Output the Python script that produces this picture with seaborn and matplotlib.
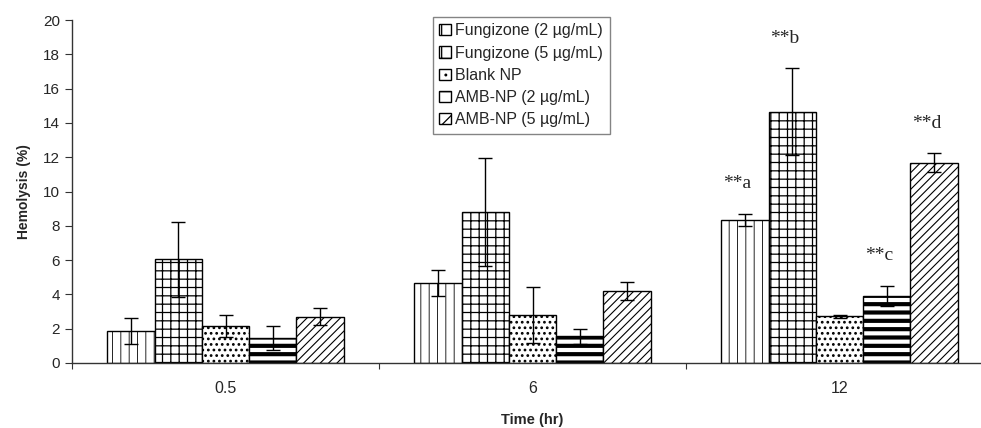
import pandas as pd
import seaborn as sns
import numpy as np
import matplotlib.pyplot as plt

times = ['0.5', '6', '12']
groups = ['Fungizone (2 \u00b5g/mL)', 'Fungizone (5 \u00b5g/mL)', 'Blank NP',
          'AMB-NP (2 \u00b5g/mL)', 'AMB-NP (5 \u00b5g/mL)']
# hemolysis (%) per group, one value per time point
fung2 = [1.87, 4.66, 8.34]
fung5 = [6.05, 8.80, 14.65]
blank = [2.16, 2.80, 2.72]
amb2 = [1.45, 1.55, 3.90]
amb5 = [2.70, 4.20, 11.68]
fung2_err = [0.77, 0.76, 0.36]
fung5_err = [2.20, 3.15, 2.53]
blank_err = [0.64, 1.63, 0.08]
amb2_err = [0.72, 0.45, 0.60]
amb5_err = [0.49, 0.52, 0.55]
stars = ['**a', '**b', '**c', '**d']

vals = [fung2, fung5, blank, amb2, amb5]
errs = [fung2_err, fung5_err, blank_err, amb2_err, amb5_err]
df = pd.DataFrame({'Time': np.tile(times, len(groups)),
                   'Group': np.repeat(groups, len(times)),
                   'Hemolysis': np.concatenate(vals)})

sns.set_style('white')
plt.rcParams['font.family'] = ['Liberation Sans', 'DejaVu Sans']
plt.rcParams['hatch.linewidth'] = 0.9

fig = plt.figure(figsize=(9.81, 4.28), dpi=100)
ax = fig.add_axes([72 / 981, (428 - 363) / 428, 921 / 981, 343 / 428])

sns.barplot(data=df, x='Time', y='Hemolysis', hue='Group', order=times,
            hue_order=groups, errorbar=None, width=0.77,
            palette=['white'] * 5, edgecolor='black', linewidth=1.0, ax=ax)

hatches = ['||', '++', '...', '--', '////']
hlw = [0.6, 0.9, 1.2, 3.0, 0.8]
for cont, h, lw, e in zip(ax.containers, hatches, hlw, errs):
    xs = []
    for bar in cont:
        bar.set_hatch(h)
        if hasattr(bar, 'set_hatch_linewidth'):
            bar.set_hatch_linewidth(lw)
        xs.append(bar.get_x() + bar.get_width() / 2)
    ys = [b.get_height() for b in cont]
    ax.errorbar(xs, ys, yerr=e, fmt='none', ecolor='black', elinewidth=1,
                capsize=5, capthick=1)

# significance labels on the 12 hr group
for idx, lab in zip((0, 1, 3, 4), stars):
    bar = ax.containers[idx][2]
    top = bar.get_height() + errs[idx][2]
    ax.text(bar.get_x() + bar.get_width() / 2 - 0.025, top + 1.75, lab, ha='center',
            va='center', fontsize=14, family='Liberation Serif')

ax.set_ylim(0, 20)
ax.set_yticks(range(0, 21, 2))
ax.set_xlim(-0.5, 2.5)
ax.set_xticks([-0.5, 0.5, 1.5, 2.5])
ax.set_xticklabels([])
ax.set_xticks([0, 1, 2], minor=True)
ax.set_xticklabels(times, minor=True)
ax.tick_params(axis='x', which='major', direction='out', length=4, color='#333333', bottom=True)
ax.tick_params(axis='x', which='minor', length=0, pad=13, labelsize=11.5)
ax.tick_params(axis='y', direction='out', length=5, color='#333333', left=True, labelsize=11)
for s in ['top', 'right']:
    ax.spines[s].set_visible(False)
for s in ['left', 'bottom']:
    ax.spines[s].set_color('#333333')
    ax.spines[s].set_linewidth(1.0)

ax.set_xlabel('Time (hr)', fontsize=10.5, fontweight='bold', labelpad=12)
ax.set_ylabel('Hemolysis (%)', fontsize=10, fontweight='bold', labelpad=9)

leg = ax.legend(loc='upper left', bbox_to_anchor=((433 - 72) / 921, (363 - 17) / 343),
                fontsize=11.5, frameon=True, fancybox=False, handlelength=0.7,
                handleheight=0.7, handletextpad=0.3, borderpad=0.4, labelspacing=0.45,
                borderaxespad=0)
for hnd, h in zip(leg.legend_handles, ['|', '+', '..', '-', '//']):
    hnd.set_hatch(h)
    hnd.set_edgecolor('black')
leg.get_frame().set_edgecolor('#666666')
leg.get_frame().set_linewidth(1.0)

fig.savefig('out.png', dpi=100)
